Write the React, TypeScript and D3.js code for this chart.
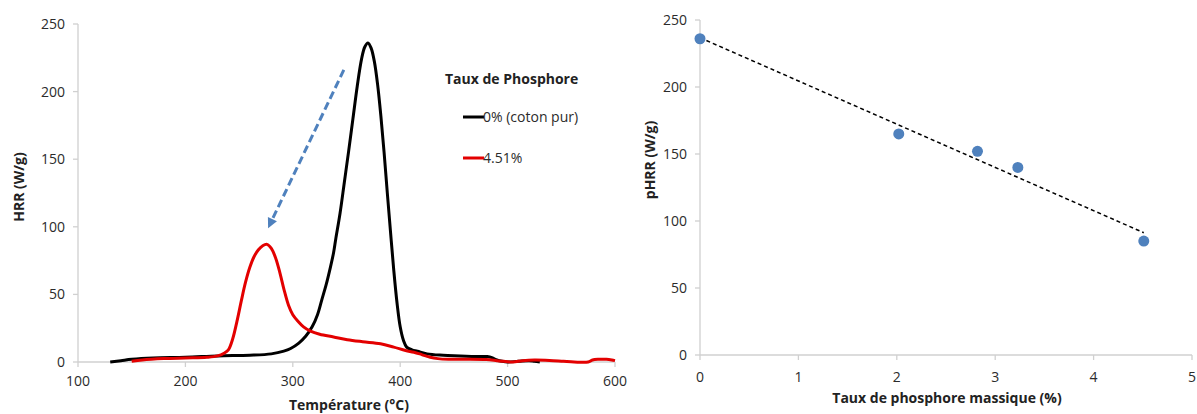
import React, { useEffect, useRef } from 'react';
import * as d3 from 'd3';

// HRR curves: [temperature °C, HRR W/g]
const pureCotton: [number, number][] = [
  [130, 0], [140, 1], [150, 2], [170, 3], [200, 3.5], [230, 4.5], [260, 5], [280, 6],
  [291.6, 8], [298, 10], [305.6, 14], [312, 19], [318, 26], [323, 35], [327, 46], [331, 57],
  [335, 70], [338, 81], [340, 91], [344, 110], [348, 133], [352, 156], [356, 180],
  [360, 204], [364, 224], [367, 233], [370, 236], [373, 232], [376, 222], [379, 205],
  [382, 182], [385, 155], [388, 125], [391, 96], [394, 68], [397, 44], [400, 26], [403, 16],
  [406, 11], [411, 9], [416, 8], [425, 6], [440, 5], [456, 4.5], [470, 4], [481, 4],
  [486, 3], [490, 1.5], [495, 0.5], [500, 0], [510, 0.5], [520, 1], [525, 0.5], [530, 0],
];

const phosphorus451: [number, number][] = [
  [150, 0.5], [160, 1.5], [180, 2.5], [200, 3], [220, 3.5], [230, 4.5], [236, 6.5],
  [240, 9], [244, 17], [248, 30], [252, 45], [256, 59], [260, 70], [264, 78], [268, 83],
  [272, 86], [276, 87], [280, 84], [284, 77], [288, 66], [292, 53], [296, 42], [300, 35],
  [305, 30], [310, 26], [316.5, 22.8], [325, 20.5], [338, 18.5], [350.7, 16.5], [365, 15],
  [381.7, 13.5], [394, 11], [405, 8.5], [412.8, 7.2], [420, 5.5], [428, 3.5], [435, 2.5],
  [445, 2], [460, 2], [480, 1.8], [490, 1], [496, 0.5], [505, 0], [514, 1], [525, 1.5],
  [539, 1.2], [552, 0.5], [562, 0], [575, 0], [579, 1.5], [585, 2], [592, 2], [597, 1.5],
  [600, 1],
];

// arrow annotation, data coords [temp, HRR]
const arrowFrom: [number, number] = [347.5, 216];
const arrowTo: [number, number] = [277, 99];

// pHRR vs phosphorus content
const phosphorusPct = [0, 2.02, 2.82, 3.23, 4.51];
const pHRR = [236, 165, 152, 140, 85];

const leftXTicks = [100, 200, 300, 400, 500, 600];
const leftYTicks = [0, 50, 100, 150, 200, 250];
const rightXTicks = [0, 1, 2, 3, 4, 5];
const rightYTicks = [0, 50, 100, 150, 200, 250];

const legendTitle = 'Taux de Phosphore';
const seriesNames = ['0% (coton pur)', '4.51%'];
const seriesColors = ['#000000', '#e30000'];

const FONT = '"Open Sans", "Liberation Sans", sans-serif';
const AXIS = '#d0d0d0';
const LABEL = '#2b2b2b';
const FS = 14;

const App: React.FC = () => {
  const svgRef = useRef<SVGSVGElement>(null);

  useEffect(() => {
    if (!svgRef.current) return;
    const svg = d3.select(svgRef.current);
    svg.selectAll('*').remove();

    const drawAxes = (
      x: d3.ScaleLinear<number, number>,
      y: d3.ScaleLinear<number, number>,
      xt: number[],
      yt: number[],
      xLabelY: number,
    ) => {
      const [x0, x1] = x.range();
      const [y0, y1] = y.range();
      const g = svg.append('g');
      g.append('line').attr('x1', x0).attr('x2', x0).attr('y1', y0).attr('y2', y1)
        .attr('stroke', AXIS).attr('stroke-width', 1.3);
      g.append('line').attr('x1', x0).attr('x2', x1).attr('y1', y0).attr('y2', y0)
        .attr('stroke', AXIS).attr('stroke-width', 1.3);
      yt.forEach(t => {
        g.append('line').attr('x1', x0 - 5).attr('x2', x0).attr('y1', y(t)).attr('y2', y(t))
          .attr('stroke', AXIS).attr('stroke-width', 1.3);
        g.append('text').attr('x', x0 - 13).attr('y', y(t)).attr('dy', '0.35em')
          .attr('text-anchor', 'end').attr('font-size', FS).attr('fill', LABEL)
          .attr('font-family', FONT).text(t);
      });
      xt.forEach(t => {
        g.append('line').attr('x1', x(t)).attr('x2', x(t)).attr('y1', y0).attr('y2', y0 + 5)
          .attr('stroke', AXIS).attr('stroke-width', 1.3);
        g.append('text').attr('x', x(t)).attr('y', xLabelY).attr('dy', '0.35em')
          .attr('text-anchor', 'middle').attr('font-size', FS).attr('fill', LABEL)
          .attr('font-family', FONT).text(t);
      });
    };

    // ---- Left chart: HRR curves
    const xL = d3.scaleLinear().domain([100, 600]).range([78, 615]);
    const yL = d3.scaleLinear().domain([0, 250]).range([362, 24]);
    drawAxes(xL, yL, leftXTicks, leftYTicks, 381);

    const line = d3.line<[number, number]>()
      .x(d => xL(d[0]))
      .y(d => yL(d[1]))
      .curve(d3.curveCatmullRom.alpha(0.5));

    [pureCotton, phosphorus451].forEach((s, i) => {
      svg.append('path').datum(s)
        .attr('fill', 'none')
        .attr('stroke', seriesColors[i])
        .attr('stroke-width', 3)
        .attr('stroke-linejoin', 'round')
        .attr('d', line);
    });

    // dashed arrow
    const ax0 = xL(arrowFrom[0]), ay0 = yL(arrowFrom[1]);
    const ax1 = xL(arrowTo[0]), ay1 = yL(arrowTo[1]);
    const ang = Math.atan2(ay1 - ay0, ax1 - ax0);
    const headLen = 10;
    const bx = ax1 - headLen * Math.cos(ang), by = ay1 - headLen * Math.sin(ang);
    svg.append('line')
      .attr('x1', ax0).attr('y1', ay0).attr('x2', bx).attr('y2', by)
      .attr('stroke', '#4f81bd').attr('stroke-width', 3).attr('stroke-dasharray', '8,4');
    const w = 5;
    svg.append('path')
      .attr('d', `M${ax1},${ay1}L${bx + w * Math.sin(ang)},${by - w * Math.cos(ang)}L${bx - w * Math.sin(ang)},${by + w * Math.cos(ang)}Z`)
      .attr('fill', '#4f81bd');

    // legend
    const lg = svg.append('g').attr('font-family', FONT);
    lg.append('text').attr('x', 445).attr('y', 79).attr('dy', '0.35em')
      .attr('font-size', FS).attr('font-weight', 700).attr('fill', '#222').text(legendTitle);
    seriesNames.forEach((n, i) => {
      const ly = 117 + i * 41;
      lg.append('line').attr('x1', 463).attr('x2', 484).attr('y1', ly).attr('y2', ly)
        .attr('stroke', seriesColors[i]).attr('stroke-width', 3);
      lg.append('text').attr('x', 483).attr('y', ly).attr('dy', '0.35em')
        .attr('font-size', FS).attr('fill', LABEL).text(n);
    });

    svg.append('text').attr('x', 349).attr('y', 405).attr('dy', '0.35em')
      .attr('text-anchor', 'middle').attr('font-size', FS).attr('font-weight', 700)
      .attr('font-family', FONT).attr('fill', '#222').text('Température (°C)');
    svg.append('text').attr('transform', 'translate(19,187) rotate(-90)').attr('dy', '0.35em')
      .attr('text-anchor', 'middle').attr('font-size', FS).attr('font-weight', 700)
      .attr('font-family', FONT).attr('fill', '#222').text('HRR (W/g)');

    // ---- Right chart: pHRR vs phosphorus
    const xR = d3.scaleLinear().domain([0, 5]).range([700, 1192]);
    const yR = d3.scaleLinear().domain([0, 250]).range([355, 20]);
    drawAxes(xR, yR, rightXTicks, rightYTicks, 377);

    // linear trend (least squares)
    const mx = d3.mean(phosphorusPct)!;
    const my = d3.mean(pHRR)!;
    const sxy = d3.sum(phosphorusPct, (v, i) => (v - mx) * (pHRR[i] - my));
    const sxx = d3.sum(phosphorusPct, v => (v - mx) ** 2);
    const slope = sxy / sxx;
    const icpt = my - slope * mx;
    const xMin = d3.min(phosphorusPct)!, xMax = d3.max(phosphorusPct)!;
    svg.append('line')
      .attr('x1', xR(xMin)).attr('y1', yR(icpt + slope * xMin))
      .attr('x2', xR(xMax)).attr('y2', yR(icpt + slope * xMax))
      .attr('stroke', '#000').attr('stroke-width', 1.5).attr('stroke-dasharray', '4,3');

    svg.append('g').selectAll('circle')
      .data(phosphorusPct)
      .enter().append('circle')
      .attr('cx', d => xR(d))
      .attr('cy', (d, i) => yR(pHRR[i]))
      .attr('r', 5.5)
      .attr('fill', '#4f81bd');

    svg.append('text').attr('x', 947).attr('y', 398).attr('dy', '0.35em')
      .attr('text-anchor', 'middle').attr('font-size', FS).attr('font-weight', 700)
      .attr('font-family', FONT).attr('fill', '#222').text('Taux de phosphore massique (%)');
    svg.append('text').attr('transform', 'translate(650,160) rotate(-90)').attr('dy', '0.35em')
      .attr('text-anchor', 'middle').attr('font-size', FS).attr('font-weight', 700)
      .attr('font-family', FONT).attr('fill', '#222').text('pHRR (W/g)');
  }, []);

  return (
    <div style={{ position: 'absolute', left: 0, top: 0, width: 1197, height: 414, background: '#fff' }}>
      <svg ref={svgRef} width={1197} height={414} style={{ display: 'block' }}></svg>
    </div>
  );
};

export default App;
